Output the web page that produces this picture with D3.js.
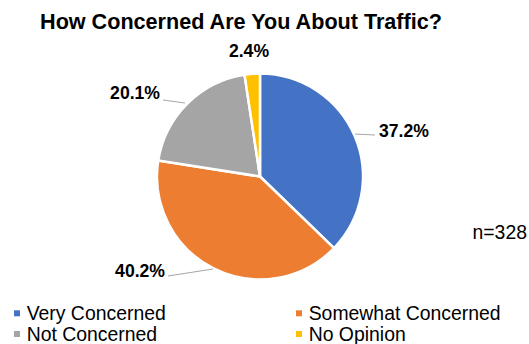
<!DOCTYPE html>
<html>
<head>
<meta charset="utf-8">
<script src="https://cdn.jsdelivr.net/npm/d3@7"></script>
<style>
  html, body { margin: 0; padding: 0; background: #fff; }
  svg { display: block; font-family: "Liberation Sans", Arial, sans-serif; }
</style>
</head>
<body>
<svg id="chart" width="529" height="344"></svg>
<script>
// Survey responses
const categories = ["Very Concerned", "Somewhat Concerned", "Not Concerned", "No Opinion"];
const values = [37.2, 40.2, 20.1, 2.4];
const colors = ["#4472C4", "#ED7D31", "#A5A5A5", "#FFC000"];
const title = "How Concerned Are You About Traffic?";
const sampleNote = "n=328";

const svg = d3.select("#chart");
const cx = 260, cy = 176.5, r = 103;

svg.append("text")
  .attr("x", 241).attr("y", 29)
  .attr("text-anchor", "middle")
  .attr("font-size", 21.6).attr("font-weight", "bold")
  .attr("fill", "#000")
  .text(title);

const pie = d3.pie().sort(null).value(d => d)(values);
const arc = d3.arc().innerRadius(0).outerRadius(r);

const g = svg.append("g").attr("transform", `translate(${cx},${cy})`);
g.selectAll("path.slice").data(pie).join("path")
  .attr("class", "slice")
  .attr("d", arc)
  .attr("fill", (d, i) => colors[i])
  .attr("stroke", "#fff")
  .attr("stroke-width", 2.5)
  .attr("stroke-linejoin", "round");

// Data label placement with leader lines
const labelPos = [
  { x: 379, y: 137, anchor: "start", line: [[355, 134], [375, 135]] },
  { x: 165, y: 277, anchor: "end", line: [[213, 269], [168, 276]] },
  { x: 160, y: 99, anchor: "end", line: [[185, 103], [163, 100]] },
  { x: 249, y: 57, anchor: "middle", line: null }
];

const fmt = d3.format(".1f");
pie.forEach((d, i) => {
  const p = labelPos[i];
  if (p.line) {
    svg.append("polyline")
      .attr("points", p.line.map(q => q.join(",")).join(" "))
      .attr("fill", "none")
      .attr("stroke", "#A6A6A6")
      .attr("stroke-width", 1);
  }
  svg.append("text")
    .attr("x", p.x).attr("y", p.y)
    .attr("text-anchor", p.anchor)
    .attr("font-size", 17.6).attr("font-weight", "bold")
    .attr("fill", "#000")
    .text(fmt(values[i]) + "%");
});

svg.append("text")
  .attr("x", 472.5).attr("y", 239)
  .attr("font-size", 19.4)
  .attr("fill", "#000")
  .text(sampleNote);

// Legend in two columns
const legend = svg.append("g");
categories.forEach((c, i) => {
  const col = i % 2, row = Math.floor(i / 2);
  const x = col === 0 ? 14 : 296;
  const y = 313.3 + row * 20.7;
  legend.append("rect")
    .attr("x", x).attr("y", y - 3)
    .attr("width", 6).attr("height", 6)
    .attr("fill", colors[i]);
  legend.append("text")
    .attr("x", x + 12.7).attr("y", y + 6.8)
    .attr("font-size", 19.4)
    .attr("fill", "#000")
    .text(c);
});
</script>
</body>
</html>
